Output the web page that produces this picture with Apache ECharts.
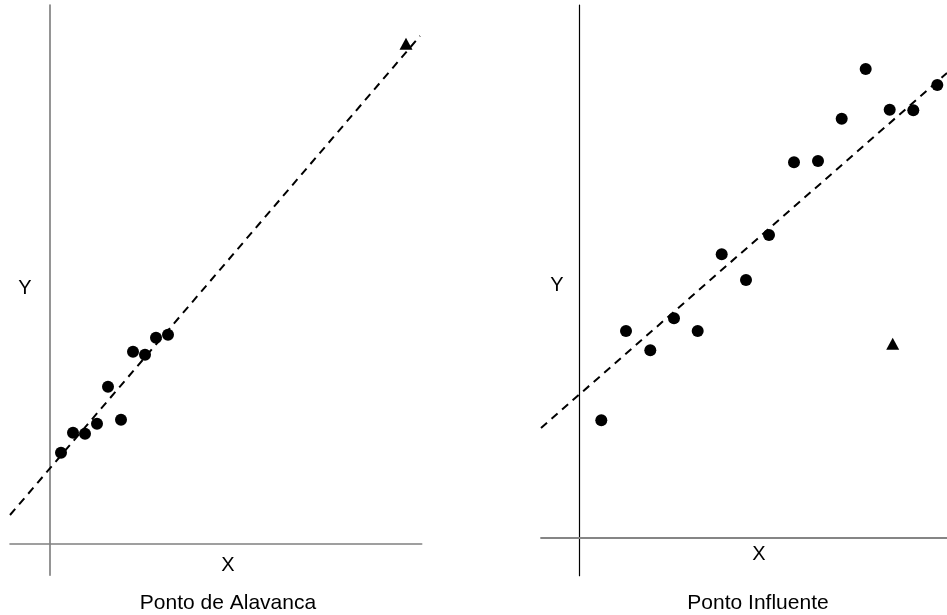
<!DOCTYPE html>
<html>
<head>
<meta charset="utf-8">
<script src="https://cdn.jsdelivr.net/npm/echarts@6/dist/echarts.min.js"></script>
<style>
  html, body { margin: 0; padding: 0; background: #ffffff; }
  #chart { width: 947px; height: 615px; }
</style>
</head>
<body>
<div id="chart"></div>
<script>
// Leverage point example: a tight cluster plus one far point lying on the trend
const leverageX = [1.1, 2.3, 3.5, 4.7, 5.8, 7.1, 8.3, 9.5, 10.6, 11.8];
const leverageY = [9.1, 11.1, 11.0, 12.0, 15.7, 12.4, 19.2, 18.9, 20.6, 20.9];
const leveragePoint = [35.6, 50.0];
const leverageFitX = [-4.0, 37.0];
const leverageFitY = [2.87, 50.77];

// Influential point example: a spread cloud plus one point far below the trend
const influenceX = [2.2, 4.67, 7.1, 9.47, 11.84, 14.24, 16.67, 18.97, 21.47, 23.87, 26.24, 28.64, 31.04, 33.4, 35.8];
const influenceY = [11.74, 20.67, 18.74, 21.94, 20.67, 28.34, 25.77, 30.27, 37.54, 37.67, 41.9, 46.87, 42.8, 42.74, 45.27];
const influencePoint = [31.34, 19.4];
const influenceFitX = [-3.83, 36.77];
const influenceFitY = [10.97, 46.47];

const panelTitles = ['Ponto de Alavanca', 'Ponto Influente'];
const axisNames = ['X', 'Y'];

const zip = (xs, ys) => xs.map((x, i) => [x, ys[i]]);

const FONT = 'Arial, "Liberation Sans", sans-serif';

function axisPair(gridIndex, xr, yr, xColor, yColor, xWidth, yWidth) {
  const base = {
    type: 'value',
    gridIndex: gridIndex,
    axisTick: { show: false },
    axisLabel: { show: false },
    splitLine: { show: false }
  };
  return {
    x: Object.assign({}, base, {
      min: xr[0], max: xr[1],
      axisLine: { show: true, onZero: true, lineStyle: { color: xColor, width: xWidth } }
    }),
    y: Object.assign({}, base, {
      min: yr[0], max: yr[1],
      axisLine: { show: true, onZero: true, lineStyle: { color: yColor, width: yWidth } }
    })
  };
}

const leftAxes = axisPair(0, [-4.0, 37.17], [-3.16, 53.87], '#808080', '#7a7a7a', 1.6, 1.6);
const rightAxes = axisPair(1, [-3.83, 36.77], [-3.8, 53.27], '#858585', '#000000', 1.8, 1.2);

function fitSeries(idx, xs, ys) {
  return {
    type: 'line',
    xAxisIndex: idx, yAxisIndex: idx,
    data: zip(xs, ys),
    symbol: 'none',
    silent: true,
    z: 1,
    lineStyle: { color: '#000000', width: 2, type: [8, 6] }
  };
}
function dotSeries(idx, xs, ys) {
  return {
    type: 'scatter',
    xAxisIndex: idx, yAxisIndex: idx,
    data: zip(xs, ys),
    symbol: 'circle',
    symbolSize: 12,
    z: 3,
    itemStyle: { color: '#000000', opacity: 1 }
  };
}
function triSeries(idx, pt) {
  return {
    type: 'scatter',
    xAxisIndex: idx, yAxisIndex: idx,
    data: [pt],
    symbol: 'triangle',
    symbolSize: [13, 12],
    z: 3,
    itemStyle: { color: '#000000', opacity: 1 }
  };
}

function label(text, x, y, size) {
  return {
    type: 'text',
    x: x, y: y,
    style: {
      text: text,
      fill: '#000000',
      font: size + 'px ' + FONT,
      textAlign: 'center',
      textVerticalAlign: 'middle'
    }
  };
}

const chart = echarts.init(document.getElementById('chart'), null, { renderer: 'canvas' });
chart.setOption({
  backgroundColor: '#ffffff',
  animation: false,
  grid: [
    { left: 10, top: 5, width: 411.7, height: 570.3 },
    { left: 541, top: 5, width: 406, height: 570.7 }
  ],
  xAxis: [leftAxes.x, rightAxes.x],
  yAxis: [leftAxes.y, rightAxes.y],
  series: [
    fitSeries(0, leverageFitX, leverageFitY),
    dotSeries(0, leverageX, leverageY),
    triSeries(0, leveragePoint),
    fitSeries(1, influenceFitX, influenceFitY),
    dotSeries(1, influenceX, influenceY),
    triSeries(1, influencePoint)
  ],
  graphic: [
    label(axisNames[1], 25, 288, 20),
    label(axisNames[0], 228, 565, 20),
    label(panelTitles[0], 228, 603, 21),
    label(axisNames[1], 557, 285, 20),
    label(axisNames[0], 759, 554, 20),
    label(panelTitles[1], 758, 603, 21)
  ]
});
</script>
</body>
</html>
